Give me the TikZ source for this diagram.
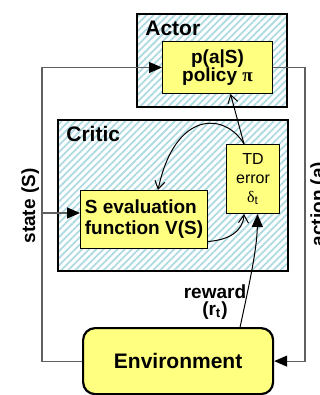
\documentclass[tikz,border=0pt]{standalone}
\usepackage{fontspec}
\setmainfont{Liberation Sans}
\newfontfamily\symbfont{Liberation Serif}
\usepackage{tikz}
\usetikzlibrary{arrows.meta, positioning, patterns.meta, calc}
\definecolor{hatchblue}{RGB}{176,218,226}
\definecolor{boxyellow}{RGB}{255,255,128}
\definecolor{linegray}{RGB}{96,96,96}

\begin{document}
\begin{tikzpicture}[x=0.5pt, y=-0.5pt, >=Stealth,
      panel/.style={draw, line width=1.2pt, rectangle, inner sep=0pt, anchor=north west,
                    pattern={Lines[angle=45, distance=2.5pt, line width=0.9pt]},
                    pattern color=hatchblue},
      block/.style={draw, line width=0.5pt, fill=boxyellow, inner sep=0pt,
                    anchor=north west, align=center,
                    font=\fontsize{9.5}{9}\selectfont\bfseries},
      title/.style={font=\fontsize{10.5}{12}\selectfont\bfseries, inner sep=0pt},
      side/.style={font=\fontsize{9.5}{11}\selectfont\bfseries, rotate=90,
                   inner sep=0pt, anchor=north},
      signal/.style={draw=linegray, line width=0.6pt},
      fb/.style={draw, line width=0.5pt, -{Straight Barb[length=4pt, width=5pt]}},
      solid tip/.style={-{Triangle[length=6.5pt, width=5.5pt, color=black, fill=black]}}]

    \useasboundingbox (0,0) rectangle (320,395);

    \node[panel, minimum width=75pt, minimum height=46.5pt] (actor) at (136,13) {};
    \node[panel, minimum width=115pt, minimum height=75.5pt] (critic) at (57,119) {};
    \node[title, below right=4pt and 4.5pt of actor.north west] (actorlbl) {Actor};
    \node[title, below right=3.5pt and 4.5pt of critic.north west] (criticlbl) {Critic};

    \node[block, minimum width=55pt, minimum height=26pt] (policy) at (162,41)
        {p(a|S)\\policy {\symbfont π}};
    \node[block, minimum width=63.5pt, minimum height=29pt, align=left,
          font=\fontsize{9.5}{10.5}\selectfont\bfseries] (seval) at (80,190)
        {S evaluation\\function V(S)};
    \node[block, minimum width=26.5pt, minimum height=34.5pt,
          font=\fontsize{8}{9.5}\selectfont] (td) at (226,144)
        {TD\\error\\{\symbfont δ}\textsubscript{t}};
    \node[draw, line width=1.1pt, fill=boxyellow, rounded corners=6pt, anchor=north west,
          minimum width=95pt, minimum height=33pt,
          font=\fontsize{10.5}{12}\selectfont\bfseries] (env) at (82,327) {Environment};

    \node[side] (statelbl) at (21,206) {state (S)};
    \node[side] (actionlbl) at (310,204) {action (a)};
    \node[align=center, inner sep=0pt, font=\fontsize{9.5}{8.5}\selectfont\bfseries]
        (rewardlbl) at (215,302) {reward\\(r\textsubscript{t})};

    \coordinate (leftbus) at (42,213);
    \coordinate (rightbus) at (305,200);
    \draw[signal, solid tip] (env.west) -| (leftbus) |- (policy.west);
    \draw[signal, solid tip] (leftbus) -- (leftbus -| seval.west);
    \draw[signal, solid tip] (policy.east) -| (rightbus) |- (env.east);

    \draw[fb] ([xshift=-4.5pt]td.north) -- ([xshift=6.5pt]policy.south);
    \draw[fb] ([xshift=-4.5pt]td.north) .. controls (225,112) and (175,110) .. ([xshift=7pt]seval.north);
    \draw[fb] ([yshift=-11pt]seval.east) .. controls (228,240) and (243,232) .. ([xshift=-4.5pt]td.south);
    \draw[line width=0.5pt, solid tip] ([xshift=31pt]env.north) .. controls (248,290) and (257,250) .. ([xshift=2.25pt]td.south);
  \end{tikzpicture}
\end{document}
